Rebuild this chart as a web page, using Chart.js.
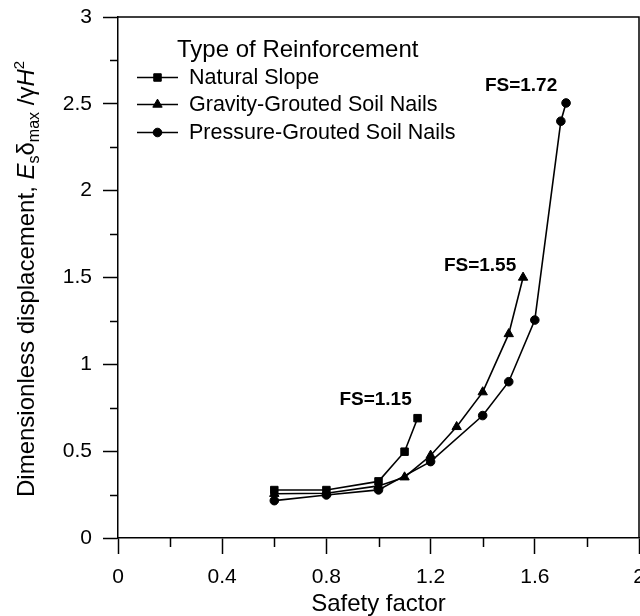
<!DOCTYPE html>
<html>
<head>
<meta charset="utf-8">
<script src="https://cdn.jsdelivr.net/npm/chart.js@4.4.1/dist/chart.umd.min.js"></script>
<style>
  html, body { margin: 0; padding: 0; background: #fff; overflow: hidden; }
  #wrap { width: 640px; height: 616px; overflow: hidden; }
  canvas { display: block; }
</style>
</head>
<body>
<div id="wrap"><canvas id="chart" width="660" height="616"></canvas></div>
<script>
const FONT = '"Liberation Sans", Arial, Helvetica, sans-serif';

// data
const seriesNames = ["Natural Slope", "Gravity-Grouted Soil Nails", "Pressure-Grouted Soil Nails"];
const naturalX = [0.6, 0.8, 1.0, 1.1, 1.15];
const naturalY = [0.276, 0.276, 0.326, 0.497, 0.69];
const gravityX = [0.6, 0.8, 1.0, 1.1, 1.2, 1.3, 1.4, 1.5, 1.555];
const gravityY = [0.255, 0.258, 0.30, 0.35, 0.475, 0.64, 0.84, 1.175, 1.50];
const pressureX = [0.6, 0.8, 1.0, 1.2, 1.4, 1.5, 1.6, 1.7, 1.72];
const pressureY = [0.215, 0.248, 0.277, 0.44, 0.705, 0.90, 1.255, 2.40, 2.505];
const failureLabels = ["FS=1.15", "FS=1.55", "FS=1.72"];
const pointStyles = ["rect", "triangle", "circle"];

// axes
const xTicks = [0, 0.4, 0.8, 1.2, 1.6, 2];
const xMinorTicks = [0.2, 0.6, 1.0, 1.4, 1.8];
const yTicks = [0, 0.5, 1, 1.5, 2, 2.5, 3];
const yMinorTicks = [0.25, 0.75, 1.25, 1.75, 2.25, 2.75];
const xTitle = "Safety factor";
const legendTitle = "Type of Reinforcement";

const toPoints = (xs, ys) => xs.map((x, i) => ({ x, y: ys[i] }));

const makeDataset = (idx, xs, ys) => ({
    label: seriesNames[idx],
    data: toPoints(xs, ys),
    borderColor: "#000",
    backgroundColor: "#000",
    borderWidth: 1.6,
    pointStyle: pointStyles[idx],
    pointRadius: idx === 0 ? 5.3 : (idx === 1 ? 5.4 : 4.3),
    pointBorderWidth: 1,
    pointBackgroundColor: "#000",
    pointBorderColor: "#000",
    tension: 0,
    fill: false,
});

// same shapes as chart.js draws them
const drawMarker = (ctx, style, x, y, r) => {
    ctx.beginPath();
    if (style === "rect") {
        const s = Math.SQRT1_2 * r;
        ctx.rect(x - s, y - s, 2 * s, 2 * s);
    } else if (style === "triangle") {
        let rad = 0;
        ctx.moveTo(x + Math.sin(rad) * r, y - Math.cos(rad) * r);
        rad += 2 * Math.PI / 3;
        ctx.lineTo(x + Math.sin(rad) * r, y - Math.cos(rad) * r);
        rad += 2 * Math.PI / 3;
        ctx.lineTo(x + Math.sin(rad) * r, y - Math.cos(rad) * r);
        ctx.closePath();
    } else {
        ctx.arc(x, y, r, 0, Math.PI * 2);
    }
    ctx.fill();
    ctx.stroke();
};

// minor ticks + top/right frame
const frameAndMinorTicks = {
    id: "frameAndMinorTicks",
    afterDraw(chart) {
        const { ctx, chartArea: a, scales: { x, y } } = chart;
        ctx.save();
        ctx.strokeStyle = "#000";
        ctx.lineWidth = 1.5;
        ctx.beginPath();
        xMinorTicks.forEach((v) => {
            const px = Math.round(x.getPixelForValue(v)) + 0.5;
            ctx.moveTo(px, a.bottom);
            ctx.lineTo(px, a.bottom + 9);
        });
        yMinorTicks.forEach((v) => {
            const py = Math.round(y.getPixelForValue(v)) + 0.5;
            ctx.moveTo(a.left, py);
            ctx.lineTo(a.left - 8, py);
        });
        ctx.moveTo(a.left, a.top);
        ctx.lineTo(a.right, a.top);
        ctx.lineTo(a.right, a.bottom);
        ctx.stroke();
        ctx.restore();
    },
};

// legend with line + marker samples
const legendStyle = { titleX: 177, titleY: 57, lineX0: 137, lineX1: 178, textX: 189, rows: [77.5, 104.5, 132.5] };
const lineLegend = {
    id: "lineLegend",
    afterDraw(chart) {
        const { ctx } = chart;
        const L = legendStyle;
        ctx.save();
        ctx.fillStyle = "#000";
        ctx.strokeStyle = "#000";
        ctx.textBaseline = "alphabetic";
        ctx.textAlign = "left";
        ctx.font = `24px ${FONT}`;
        ctx.fillText(legendTitle, L.titleX, L.titleY);
        ctx.font = `21.5px ${FONT}`;
        chart.data.datasets.forEach((ds, i) => {
            const yy = L.rows[i];
            ctx.lineWidth = 1.6;
            ctx.beginPath();
            ctx.moveTo(L.lineX0, yy);
            ctx.lineTo(L.lineX1, yy);
            ctx.stroke();
            ctx.lineWidth = 1;
            drawMarker(ctx, ds.pointStyle, (L.lineX0 + L.lineX1) / 2, yy, ds.pointRadius);
            ctx.fillText(ds.label, L.textX, yy + 6);
        });
        ctx.restore();
    },
};

// "FS=" labels next to the last point of every curve
const labelOffsets = [[-42, -13], [-43, -7], [-45, -12]];
const failureNotes = {
    id: "failureNotes",
    afterDatasetsDraw(chart) {
        const { ctx } = chart;
        ctx.save();
        ctx.fillStyle = "#000";
        ctx.font = `bold 19px ${FONT}`;
        ctx.textAlign = "center";
        ctx.textBaseline = "alphabetic";
        chart.data.datasets.forEach((ds, i) => {
            const pts = chart.getDatasetMeta(i).data;
            const last = pts[pts.length - 1];
            ctx.fillText(failureLabels[i], last.x + labelOffsets[i][0], last.y + labelOffsets[i][1]);
        });
        ctx.restore();
    },
};

// y title with italic, sub- and superscripts
const yTitleParts = [
    { text: "Dimensionless displacement, ", size: 24 },
    { text: "E", size: 24, italic: true },
    { text: "s", size: 16, shift: 5 },
    { text: "δ", size: 24 },
    { text: "max", size: 16, shift: 5 },
    { text: " /", size: 24 },
    { text: "γ", size: 24 },
    { text: "H", size: 24, italic: true },
    { text: "2", size: 15, shift: -10 },
];
const yTitle = {
    id: "yTitle",
    afterDraw(chart) {
        const { ctx } = chart;
        ctx.save();
        ctx.translate(33.5, 497);
        ctx.rotate(-Math.PI / 2);
        ctx.fillStyle = "#000";
        ctx.textAlign = "left";
        ctx.textBaseline = "alphabetic";
        let pos = 0;
        yTitleParts.forEach((p) => {
            ctx.font = `${p.italic ? "italic " : ""}${p.size}px ${FONT}`;
            ctx.fillText(p.text, pos, p.shift || 0);
            pos += ctx.measureText(p.text).width;
        });
        ctx.restore();
    },
};

const chartConfig = {
    type: "line",
    data: {
        datasets: [
            makeDataset(0, naturalX, naturalY),
            makeDataset(1, gravityX, gravityY),
            makeDataset(2, pressureX, pressureY),
        ],
    },
    options: {
        responsive: false,
        animation: false,
        devicePixelRatio: 1,
        layout: { padding: { top: 17, right: 21, bottom: 0, left: 0 } },
        plugins: { legend: { display: false }, tooltip: { enabled: false } },
        scales: {
            x: {
                type: "linear",
                min: 0,
                max: 2,
                afterBuildTicks: (s) => { s.ticks = xTicks.map((v) => ({ value: v })); },
                afterFit: (s) => { s.height = 78; s.paddingLeft = 0; s.paddingRight = 0; },
                border: { display: true, color: "#000", width: 1.5 },
                grid: { drawOnChartArea: false, drawTicks: true, tickLength: 16, tickWidth: 1.5, tickColor: "#000" },
                ticks: {
                    color: "#000",
                    font: { family: FONT, size: 21 },
                    padding: 11,
                    maxRotation: 0,
                    autoSkip: false,
                    callback: (v) => String(v),
                },
                title: {
                    display: true,
                    text: xTitle,
                    color: "#000",
                    font: { family: FONT, size: 24, lineHeight: 1 },
                    padding: 0,
                },
            },
            y: {
                type: "linear",
                min: 0,
                max: 3,
                afterBuildTicks: (s) => { s.ticks = yTicks.map((v) => ({ value: v })); },
                afterFit: (s) => { s.width = 118; s.paddingTop = 0; s.paddingBottom = 0; },
                border: { display: true, color: "#000", width: 1.5 },
                grid: { drawOnChartArea: false, drawTicks: true, tickLength: 15, tickWidth: 1.5, tickColor: "#000" },
                ticks: {
                    color: "#000",
                    font: { family: FONT, size: 21 },
                    padding: 11,
                    autoSkip: false,
                    callback: (v) => String(v),
                },
            },
        },
    },
    plugins: [frameAndMinorTicks, failureNotes, lineLegend, yTitle],
};

const myChart = new Chart(document.getElementById("chart"), chartConfig);
</script>
</body>
</html>
